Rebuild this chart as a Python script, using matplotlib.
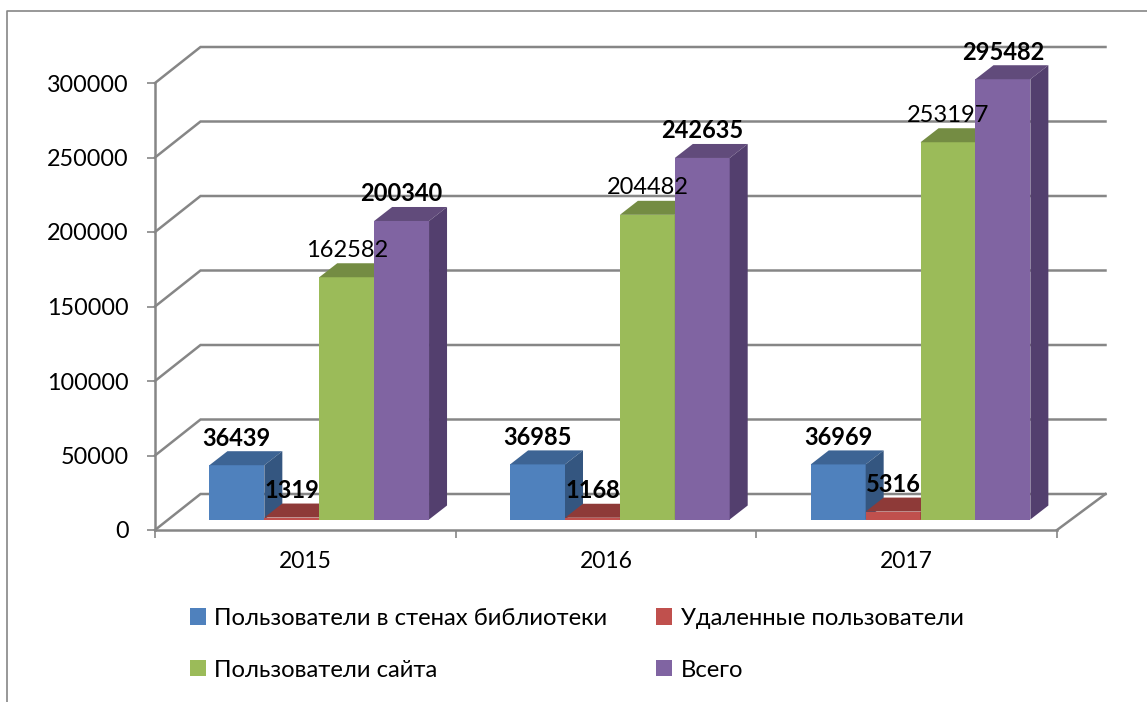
import matplotlib
matplotlib.use("Agg")
import matplotlib.pyplot as plt
from matplotlib.lines import Line2D
from matplotlib.patches import Patch, Polygon

years = ["2015", "2016", "2017"]
series_names = ["Пользователи в стенах библиотеки", "Удаленные пользователи",
                "Пользователи сайта", "Всего"]
in_library = [36439, 36985, 36969]
remote = [1319, 1168, 5316]
site = [162582, 204482, 253197]
total = [200340, 242635, 295482]
y_ticks = [0, 50000, 100000, 150000, 200000, 250000, 300000]

W, H = 1147, 702
GRAY = "#868686"

# front, top, side shades for each series
shades = [("#4F81BD", "#3D6494", "#345680"),
          ("#C0504D", "#8E3A38", "#7F3331"),
          ("#9BBB59", "#748C43", "#657A3A"),
          ("#8064A2", "#614B7B", "#533F6E")]
bold = [True, True, False, True]

plt.rcParams["font.family"] = ["Lato", "Noto Sans", "DejaVu Sans"]

fig = plt.figure(figsize=(W / 100, H / 100), dpi=100)
ax = fig.add_axes([155 / W, 1 - 530 / H, 902 / W, 447 / H])
ax.set_xlim(0, 3)
ax.set_ylim(0, 300000)
ax.patch.set_alpha(0)

# pixel sizes turned into data units, the chart is a fake 3d one
px_x = 3 / 902
px_y = 300000 / 447
wall_x, wall_y = 45.5 * px_x, 36 * px_y
wall_end = 3 + 48.5 * px_x
base_x, base_y = 13.9 * px_x, 10.5 * px_y
deep_x, deep_y = 18 * px_x, 14 * px_y
bar_w = 54.9 * px_x
gap = (1 - 4 * bar_w) / 2

# walls
for v in y_ticks:
    ax.plot([0, wall_x, wall_end], [v, v + wall_y, v + wall_y], color=GRAY,
            lw=1.8, clip_on=False, zorder=1, solid_joinstyle="miter")
ax.plot([3, wall_end], [0, wall_y], color=GRAY, lw=1.8, clip_on=False, zorder=1)

# bars
for s, values in enumerate([in_library, remote, site, total]):
    front, top, side = shades[s]
    for i, v in enumerate(values):
        x0 = i + gap + s * bar_w + base_x
        x1 = x0 + bar_w
        y0 = base_y
        y1 = base_y + v
        ax.add_patch(Polygon([(x0, y0), (x1, y0), (x1, y1), (x0, y1)], fc=front, ec="none",
                             clip_on=False, zorder=3))
        ax.add_patch(Polygon([(x0, y1), (x1, y1), (x1 + deep_x, y1 + deep_y), (x0 + deep_x, y1 + deep_y)],
                             fc=top, ec="none", clip_on=False, zorder=3))
        ax.add_patch(Polygon([(x1, y0), (x1 + deep_x, y0 + deep_y), (x1 + deep_x, y1 + deep_y), (x1, y1)],
                             fc=side, ec="none", clip_on=False, zorder=3))
        ax.annotate(str(v), (x0 + bar_w / 2, y1), xytext=(0, 27), textcoords="offset pixels",
                    ha="center", va="center", fontsize=17,
                    fontweight="bold" if bold[s] else "normal", zorder=5, annotation_clip=False)

# axes
for name in ["top", "right"]:
    ax.spines[name].set_visible(False)
for name in ["left", "bottom"]:
    ax.spines[name].set_color(GRAY)
    ax.spines[name].set_linewidth(1.8)
    ax.spines[name].set_zorder(2)
ax.set_yticks(y_ticks)
ax.set_xticks([0, 1, 2, 3])
ax.set_xticklabels([])
ax.set_xticks([0.5, 1.5, 2.5], labels=years, minor=True)
ax.tick_params(axis="y", length=6, width=1.2, color=GRAY, labelsize=16.8, pad=13)
ax.tick_params(axis="x", which="major", length=6, width=1.2, color=GRAY)
ax.tick_params(axis="x", which="minor", length=0, labelsize=16.5, pad=15)

# legend fills column by column
order = [0, 2, 1, 3]
handles = [Patch(fc=shades[k][0], ec="none", label=series_names[k]) for k in order]
fig.legend(handles=handles, ncol=2, loc="upper left", bbox_to_anchor=(190 / W, 1 - 608 / H),
           frameon=False, fontsize=17.2, borderpad=0, borderaxespad=0, handlelength=0.67, handleheight=0.67,
           handletextpad=0.35, columnspacing=2.05, labelspacing=1.28)

# outer frame of the picture
fig.add_artist(Line2D([7 / W, 7 / W, 1], [0, 1 - 11 / H, 1 - 11 / H], color=GRAY, lw=1.2))

fig.savefig("out.png", dpi=100)
